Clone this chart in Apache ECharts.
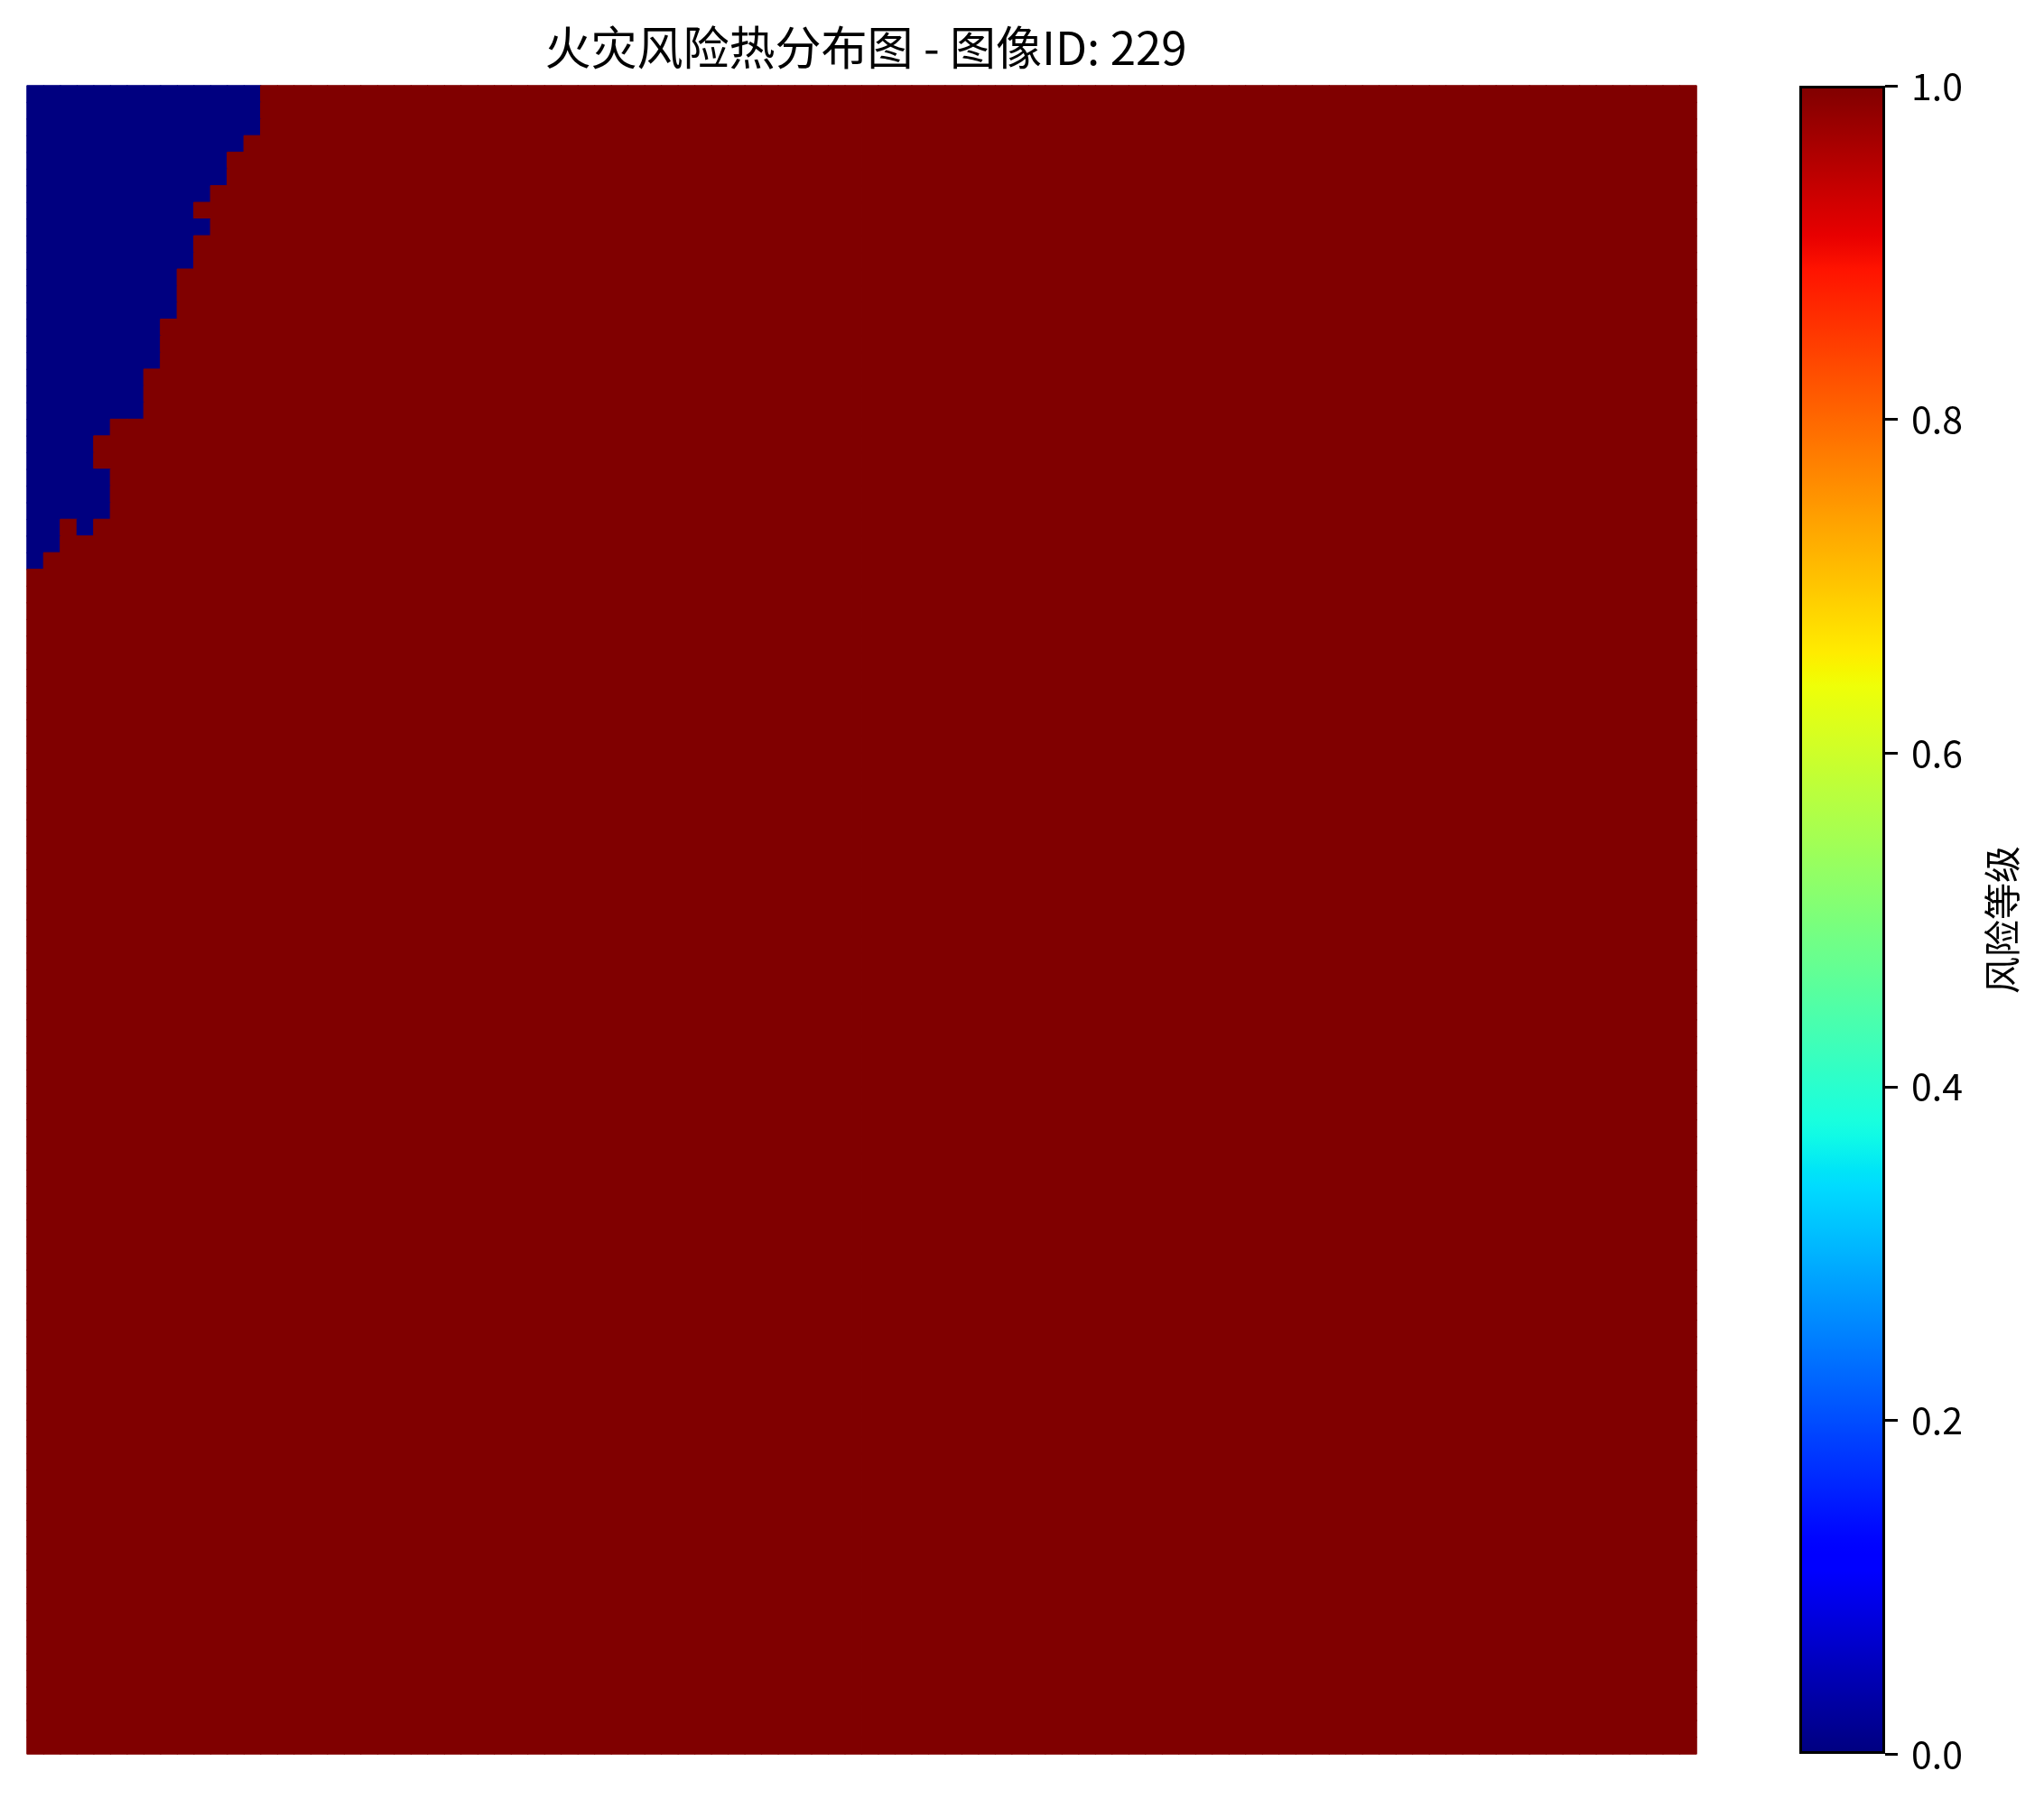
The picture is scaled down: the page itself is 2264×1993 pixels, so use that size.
<!DOCTYPE html>
<html><head><meta charset="utf-8">
<script src="https://cdn.jsdelivr.net/npm/echarts@6/dist/echarts.min.js"></script>
<style>html,body{margin:0;padding:0;background:#fff}#c{width:2264px;height:1993px}</style>
</head><body><div id="c"></div>
<script>
// ---------- data ----------
const TITLE = '火灾风险热分布图 - 图像ID: 229';
const CBAR_LABEL = '风险等级';
const GRID_COLS = 100;
const GRID_ROWS = 100;
// number of low-risk (value 0) cells counted from the left edge, for rows 0..28 (top to bottom); later rows are all high risk
const lowRiskRowWidths = [14,14,14,13,12,12,11,10,11,10,10,9,9,9,8,8,8,7,7,7,5,4,4,5,5,5,2,2,1];
// isolated low-risk cells [col, row]
const extraLowRiskCells = [[3, 26]];
const LOW_VALUE = 0;
const HIGH_VALUE = 1;
const colorbarTicks = [0, 0.2, 0.4, 0.6, 0.8, 1.0];

// ---------- jet colormap (style) ----------
function seg(pts, t){
  for (let i = 1; i < pts.length; i++){
    if (t <= pts[i][0]){
      const [x0,y0] = pts[i-1], [x1,y1] = pts[i];
      return y0 + (y1-y0)*(t-x0)/(x1-x0);
    }
  }
  return pts[pts.length-1][1];
}
const JR = [[0,0],[0.35,0],[0.66,1],[0.89,1],[1,0.5]];
const JG = [[0,0],[0.125,0],[0.375,1],[0.64,1],[0.91,0],[1,0]];
const JB = [[0,0.5],[0.11,1],[0.34,1],[0.65,0],[1,0]];
function jet(t){
  const c = v => Math.round(Math.max(0,Math.min(1,v))*255);
  return 'rgb(' + c(seg(JR,t)) + ',' + c(seg(JG,t)) + ',' + c(seg(JB,t)) + ')';
}
const jetColors = [], jetStops = [];
for (let i = 0; i <= 100; i++){ jetColors.push(jet(i/100)); jetStops.push({offset: i/100, color: jet(i/100)}); }

// ---------- build table ----------
const xCats = Array.from({length: GRID_COLS}, (_, i) => String(i));
const yCats = Array.from({length: GRID_ROWS}, (_, i) => String(i));
const cellValues = [];
for (let r = 0; r < GRID_ROWS; r++){
  const w = lowRiskRowWidths[r] || 0;
  const row = [];
  for (let c = 0; c < GRID_COLS; c++) row.push(c < w ? LOW_VALUE : HIGH_VALUE);
  cellValues.push(row);
}
extraLowRiskCells.forEach(([c, r]) => { cellValues[r][c] = LOW_VALUE; });
const heatData = [];
for (let r = 0; r < GRID_ROWS; r++) for (let c = 0; c < GRID_COLS; c++) {
  const v = cellValues[r][c];
  // a thin border in the cell's own colour hides anti-aliasing seams between cells
  heatData.push({value: [c, r, v], itemStyle: {borderColor: jet(v), borderWidth: 1}});
}

// ---------- chart ----------
const FONT = '"Noto Sans CJK SC", "Noto Sans", sans-serif';
const chart = echarts.init(document.getElementById('c'), null, {renderer: 'canvas'});
chart.setOption({
  animation: false,
  backgroundColor: '#ffffff',
  title: {
    text: TITLE, left: 954, top: 22, textAlign: 'center',
    textStyle: {fontFamily: FONT, fontSize: 51, fontWeight: 'normal', color: '#000'}
  },
  grid: [
    {left: 30, top: 95, width: 1849, height: 1848},
    {left: 1993, top: 95, width: 95, height: 1848}
  ],
  xAxis: [
    {type: 'category', data: xCats, gridIndex: 0, show: false},
    {type: 'category', data: [''], gridIndex: 1, show: false}
  ],
  yAxis: [
    {type: 'category', data: yCats, gridIndex: 0, inverse: true, show: false},
    {type: 'value', gridIndex: 1, min: 0, max: 1, interval: 0.2, position: 'right',
     axisLine: {show: false},
     axisTick: {show: true, length: 14, lineStyle: {color: '#000', width: 3}},
     splitLine: {show: false},
     axisLabel: {margin: 29, fontFamily: FONT, fontSize: 41, color: '#000',
       formatter: v => v.toFixed(1)}}
  ],
  visualMap: {
    type: 'continuous', show: false, min: 0, max: 1, seriesIndex: [0],
    inRange: {color: jetColors}
  },
  graphic: [{
    type: 'text', x: 2217, y: 1019, rotation: Math.PI/2,
    style: {text: CBAR_LABEL, fontFamily: FONT, fontSize: 41, fill: '#000',
            textAlign: 'center', textVerticalAlign: 'middle'}
  }],
  series: [
    {type: 'heatmap', xAxisIndex: 0, yAxisIndex: 0, data: heatData,
     progressive: 0, emphasis: {disabled: true}},
    {type: 'bar', xAxisIndex: 1, yAxisIndex: 1, data: [1], barWidth: '100%', silent: true,
     itemStyle: {color: new echarts.graphic.LinearGradient(0, 1, 0, 0, jetStops),
                 borderColor: '#000', borderWidth: 3}}
  ]
});
</script></body></html>
